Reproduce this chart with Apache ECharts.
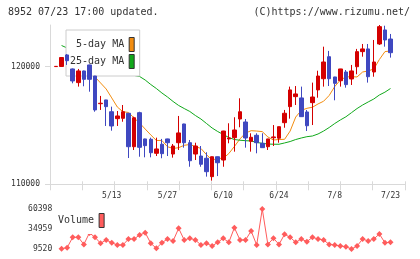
<!DOCTYPE html>
<html lang="ja">
<head>
  <meta charset="UTF-8">
  <title>8952</title>
  <style>
    html, body { margin: 0; padding: 0; background: #fff; }
    #chart { width: 420px; height: 259px; }
  </style>
</head>
<body>
  <div id="chart"></div>
  <script src="https://cdn.jsdelivr.net/npm/echarts@6/dist/echarts.min.js"></script>
  <script>
    // 日付（営業日）
    var dates = ['4/24','4/25','4/26','4/30','5/1','5/2','5/7','5/8','5/9','5/10',
      '5/13','5/14','5/15','5/16','5/17','5/20','5/21','5/22','5/23','5/24',
      '5/27','5/28','5/29','5/30','5/31','6/3','6/4','6/5','6/6','6/7',
      '6/10','6/11','6/12','6/13','6/14','6/17','6/18','6/19','6/20','6/21',
      '6/24','6/25','6/26','6/27','6/28','7/1','7/2','7/3','7/4','7/5',
      '7/8','7/9','7/10','7/11','7/12','7/16','7/17','7/18','7/19','7/22','7/23'];

    var opens = [119990,120000,120980,119790,118630,119620,120130,119190,116840,117160,
      116160,115570,115600,116030,113190,116080,113850,113820,112630,113400,
      113850,112570,113530,115120,113530,112570,112400,112210,110650,112340,
      112060,113850,113960,115540,115290,113650,114160,113480,113190,113950,
      113910,115230,116590,117440,117330,116140,116930,118010,118960,120830,
      119110,118790,119530,118940,119980,121260,121490,119530,121910,123100,122330];
    var closes = [120010,120760,120490,118770,119620,118910,118910,116310,116880,116590,
      114950,115800,116160,113190,115650,113140,113280,112680,113000,112600,
      113530,113250,114360,113530,112000,113250,111700,111070,112340,111830,
      114520,113930,114610,116160,113930,113990,113530,113110,113850,114020,
      114890,116030,118010,117670,115740,114970,117410,119190,120380,118960,
      118570,119790,118460,119620,121260,121490,119130,120380,123380,122250,121170];
    var lows = [119980,119980,120130,118570,118290,118320,117860,116160,116310,114950,
      114550,114950,115310,112230,112910,112340,112290,112290,112400,112210,
      112400,112260,112910,113110,111490,112060,111490,110650,110310,110700,
      111490,113480,112770,114840,113110,112770,112630,113090,112910,113250,
      113530,114800,115570,116730,115720,114520,115030,117350,118290,118340,
      117130,118290,118200,118430,119340,120830,118630,119130,121830,121680,120750];
    var highs = [120020,120780,121060,119830,119790,119650,120150,119200,117500,117170,
      116590,116220,116730,116050,115740,116160,113870,113960,113960,113850,
      113870,113420,115800,115140,113760,113530,113250,112720,112360,112360,
      114540,115180,115690,117300,115540,114330,114330,114330,113860,115030,
      114900,116310,118290,118340,118290,116310,118630,119640,121680,121320,
      119120,119800,119700,120130,121490,121910,121910,122250,123520,123460,122760];

    var ma5 = [null,null,null,null,119870,119700,119530,119110,118600,118090,
      117330,116560,116160,116100,115630,115200,114690,114190,113720,113720,
      113190,113040,113110,113310,113380,113210,113040,112510,112060,112190,
      112210,112610,113210,113850,114350,114550,114520,114470,114020,113760,
      113800,113820,114520,115710,116270,116450,116540,116820,117050,117540,
      118300,118850,119110,119130,119110,119530,119620,119790,120590,121260,121320];
    var ma25 = [null,121780,121570,121400,121230,121020,120810,120640,120420,120210,
      120040,119830,119620,119450,119240,119150,118850,118470,118130,117750,
      117410,117030,116690,116430,116180,115840,115540,115160,114780,114480,
      114230,113970,113800,113740,113700,113680,113550,113480,113420,113400,
      113400,113510,113630,113800,113930,114040,114100,114270,114520,114820,
      115160,115460,115730,116080,116430,116730,116990,117240,117580,117820,118130];

    var volumes = [null,9800,11200,24400,24400,15400,30000,24400,16800,21000,
      17500,14600,14600,22200,22200,27300,30300,16800,10400,17500,
      22200,19700,35800,21000,23100,21000,14600,16800,13300,18000,
      23100,18000,36600,21000,21000,32400,14600,60398,15400,23100,
      15400,28200,24400,18000,22200,18900,24400,22200,21000,15400,
      14600,13300,12500,9520,13300,22200,19700,22200,28600,17500,18000];

    var priceTicks = [110000, 120000];
    var volumeTicks = [9520, 34959, 60398];

    var mono = 'DejaVu Sans Mono';
    var gray = '#d9d9d9';

    function plain(v) { return String(v); }

    var candles = dates.map(function(d, i) {
      return [opens[i], closes[i], lows[i], highs[i]];
    });

    var chart = echarts.init(document.getElementById('chart'));

    var option = {
      animation: false,
      title: [
        { text: '8952 07/23 17:00 updated.', left: 8, top: 7, padding: 0,
          textStyle: { fontFamily: mono, fontSize: 10, fontWeight: 'normal', color: '#333' } },
        { text: '(C)https://www.rizumu.net/', right: 10, top: 7, padding: 0,
          textStyle: { fontFamily: mono, fontSize: 10, fontWeight: 'normal', color: '#333' } }
      ],
      legend: [
        {
          data: ['5-day MA', '25-day MA'],
          orient: 'vertical',
          left: 66, top: 30,
          align: 'right',
          icon: 'rect',
          itemWidth: 5, itemHeight: 14, itemGap: 2,
          padding: [7, 5, 7, 4],
          backgroundColor: '#fff',
          borderColor: '#ccc', borderWidth: 1,
          selectedMode: false,
          z: 3,
          itemStyle: { borderColor: '#333', borderWidth: 1 },
          textStyle: { fontFamily: mono, fontSize: 10, color: '#333' }
        },
        {
          data: ['Volume'],
          left: 55, top: 209,
          align: 'right',
          icon: 'rect',
          itemWidth: 5, itemHeight: 14,
          padding: [4, 3, 6, 3],
          backgroundColor: '#fff',
          selectedMode: false,
          z: 3,
          itemStyle: { borderColor: '#333', borderWidth: 1 },
          textStyle: { fontFamily: mono, fontSize: 10, color: '#333' }
        }
      ],
      grid: [
        { left: 50, top: 25, width: 355, height: 159.3 },
        { left: 53.2, top: 25, width: 340.1, height: 159.3 },
        { left: 53.2, top: 209, width: 340.1, height: 40 }
      ],
      xAxis: [
        // 枠の軸
        { gridIndex: 0, type: 'value', position: 'bottom', min: 0, max: 11, interval: 1,
          axisLine: { show: true, lineStyle: { color: gray } },
          axisTick: { show: false }, axisLabel: { show: false }, splitLine: { show: false } },
        // ローソク足
        { gridIndex: 1, type: 'category', position: 'bottom', data: dates, boundaryGap: true,
          axisLine: { show: false }, axisTick: { show: false },
          axisLabel: {
            interval: function(idx) { return idx > 0 && idx % 10 === 0; },
            margin: 8, fontFamily: mono, fontSize: 8, color: '#333'
          } },
        // 出来高
        { gridIndex: 2, type: 'category', data: dates, boundaryGap: true, show: false },
        // 目盛り
        { gridIndex: 0, type: 'value', position: 'bottom', min: 0, max: 11, interval: 1, offset: -3,
          axisLine: { show: false },
          axisTick: { show: true, length: 9, lineStyle: { color: gray } },
          axisLabel: { show: false }, splitLine: { show: false } }
      ],
      yAxis: [
        { gridIndex: 0, type: 'value', min: 110000, max: 123520, scale: true,
          axisLine: { show: true, lineStyle: { color: gray } },
          axisTick: { show: true, length: 5, lineStyle: { color: gray }, customValues: priceTicks },
          axisLabel: { customValues: priceTicks, formatter: plain, margin: 10,
            fontFamily: mono, fontSize: 8, color: '#333' },
          splitLine: { show: false } },
        { gridIndex: 1, type: 'value', min: 110000, max: 123520, scale: true, show: false,
          splitLine: { show: false } },
        { gridIndex: 2, type: 'value', min: 9520, max: 60398, scale: true,
          axisLine: { show: false }, axisTick: { show: false },
          axisLabel: { customValues: volumeTicks, formatter: plain, margin: 1,
            fontFamily: mono, fontSize: 8, color: '#333' },
          splitLine: { show: false } }
      ],
      series: [
        {
          name: 'price', type: 'candlestick',
          xAxisIndex: 1, yAxisIndex: 1,
          data: candles,
          barWidth: 4,
          z: 5,
          itemStyle: {
            color: '#d40000', color0: '#3f48c0',
            borderColor: '#d40000', borderColor0: '#3f48c0',
            borderWidth: 1
          }
        },
        {
          name: '5-day MA', type: 'line',
          xAxisIndex: 1, yAxisIndex: 1,
          data: ma5, symbol: 'none', z: 2,
          color: '#f28c0f',
          lineStyle: { width: 1, color: '#f28c0f' }
        },
        {
          name: '25-day MA', type: 'line',
          xAxisIndex: 1, yAxisIndex: 1,
          data: ma25, symbol: 'none', z: 2,
          color: '#10a81a',
          lineStyle: { width: 1, color: '#10a81a' }
        },
        {
          name: 'Volume', type: 'line',
          xAxisIndex: 2, yAxisIndex: 2,
          data: volumes,
          symbol: 'diamond', symbolSize: 6, showAllSymbol: true, z: 2,
          color: '#ff5c5c',
          lineStyle: { width: 1, color: '#ff5c5c' },
          itemStyle: { color: '#ff5c5c' }
        }
      ]
    };

    chart.setOption(option);
  </script>
</body>
</html>
